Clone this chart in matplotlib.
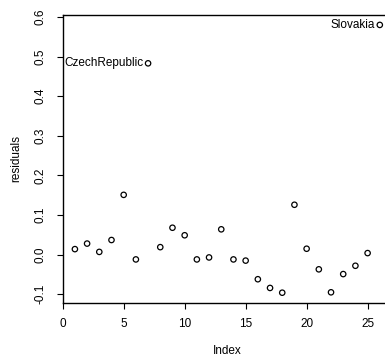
import matplotlib
matplotlib.use("Agg")
import matplotlib.pyplot as plt

plt.rcParams["font.family"] = ["Liberation Sans", "DejaVu Sans"]
plt.rcParams["font.size"] = 8.5

index = list(range(1, 27))
residuals = [0.014, 0.028, 0.007, 0.037, 0.151, -0.012, 0.483, 0.019, 0.068, 0.049,
             -0.012, -0.007, 0.064, -0.012, -0.015, -0.062, -0.084, -0.096, 0.126, 0.015,
             -0.037, -0.095, -0.049, -0.028, 0.004, 0.580]
labelled = {7: "CzechRepublic", 26: "Slovakia"}
xticks = [0, 5, 10, 15, 20, 25]
yticks = [-0.1, 0.0, 0.1, 0.2, 0.3, 0.4, 0.5, 0.6]

W, H = 385, 357
fig = plt.figure(figsize=(W / 100, H / 100), dpi=100)
# plot region runs past the right edge, as in the cropped original
x0, x1, y_top, y_bot = 62.7, 392.0, 15.0, 303.0
ax = fig.add_axes([x0 / W, (H - y_bot) / H, (x1 - x0) / W, (y_bot - y_top) / H])

ax.scatter(index, residuals, s=15, facecolors="none", edgecolors="black", linewidths=0.9)
for i, name in labelled.items():
    ax.annotate(name, (i, residuals[i - 1]), xytext=(-5, 0), textcoords="offset pixels",
                ha="right", va="center", fontsize=8.5)

ax.set_xlim(0, 27)
ax.set_ylim(-0.122, 0.605)
ax.set_xticks(xticks)
ax.set_xticklabels([str(t) for t in xticks])
ax.set_yticks(yticks)
ax.set_yticklabels([f"{t:.1f}" for t in yticks], rotation=90, va="center")
ax.tick_params(axis="x", direction="out", length=4.5, width=0.8, pad=6.5)
ax.tick_params(axis="y", direction="out", length=4.5, width=0.8, pad=7)
for sp in ax.spines.values():
    sp.set_linewidth(1.0)

ax.set_xlabel("Index", labelpad=10.5)
ax.set_ylabel("residuals", labelpad=9)

fig.savefig("out.png", dpi=100)
